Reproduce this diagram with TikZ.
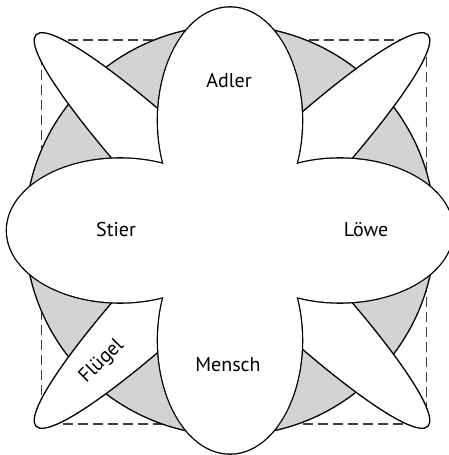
\documentclass[tikz,border=0pt]{standalone}
\usepackage{fontspec}
\setmainfont{PT Sans}
\definecolor{ringgray}{RGB}{209,211,212}

\begin{document}
\begin{tikzpicture}[x=0.5pt, y=0.5pt,
    outline/.style={draw=black, line width=0.65pt},
    beasttext/.style={font=\fontsize{10}{12}\selectfont, inner sep=1pt}]
    \useasboundingbox (-230,-224.5) rectangle (219,230.5);

    % Frame
    \draw[black!75, line width=0.55pt, dash pattern=on 5pt off 2.5pt] (-188.3,190.5) rectangle (196.1,-193.5);

    % Ring
    \draw[outline, fill=ringgray] (0,0) circle (205);

    % Wings
    \draw[outline, fill=white, rotate around={-45:(2,0)}] (2,0) ellipse [x radius=277, y radius=39];
    \draw[outline, fill=white, rotate around={45:(2,0)}] (2,0) ellipse [x radius=277, y radius=39];

    % Petals (wide rim first, white fill on top, so only the outer edge stays)
    \foreach \cx/\cy/\rx/\ry in {0/110/72/113, 0/-110/72/113, -110/0/113/72, 110/0/113/72}
        \draw[black, line width=1.3pt] (\cx,\cy) ellipse [x radius=\rx, y radius=\ry];
    \foreach \cx/\cy/\rx/\ry in {0/110/72/113, 0/-110/72/113, -110/0/113/72, 110/0/113/72}
        \fill[white] (\cx,\cy) ellipse [x radius=\rx, y radius=\ry];

    % Labels
    \node[beasttext] (adler) at (-1,150) {Adler};
    \node[beasttext] (mensch) at (-2,-134) {Mensch};
    \node[beasttext] (stier) at (-114,1) {Stier};
    \node[beasttext] (loewe) at (136,1) {Löwe};
    \node[beasttext, rotate=45] (fluegel) at (-128,-131) {Flügel};
\end{tikzpicture}
\end{document}
